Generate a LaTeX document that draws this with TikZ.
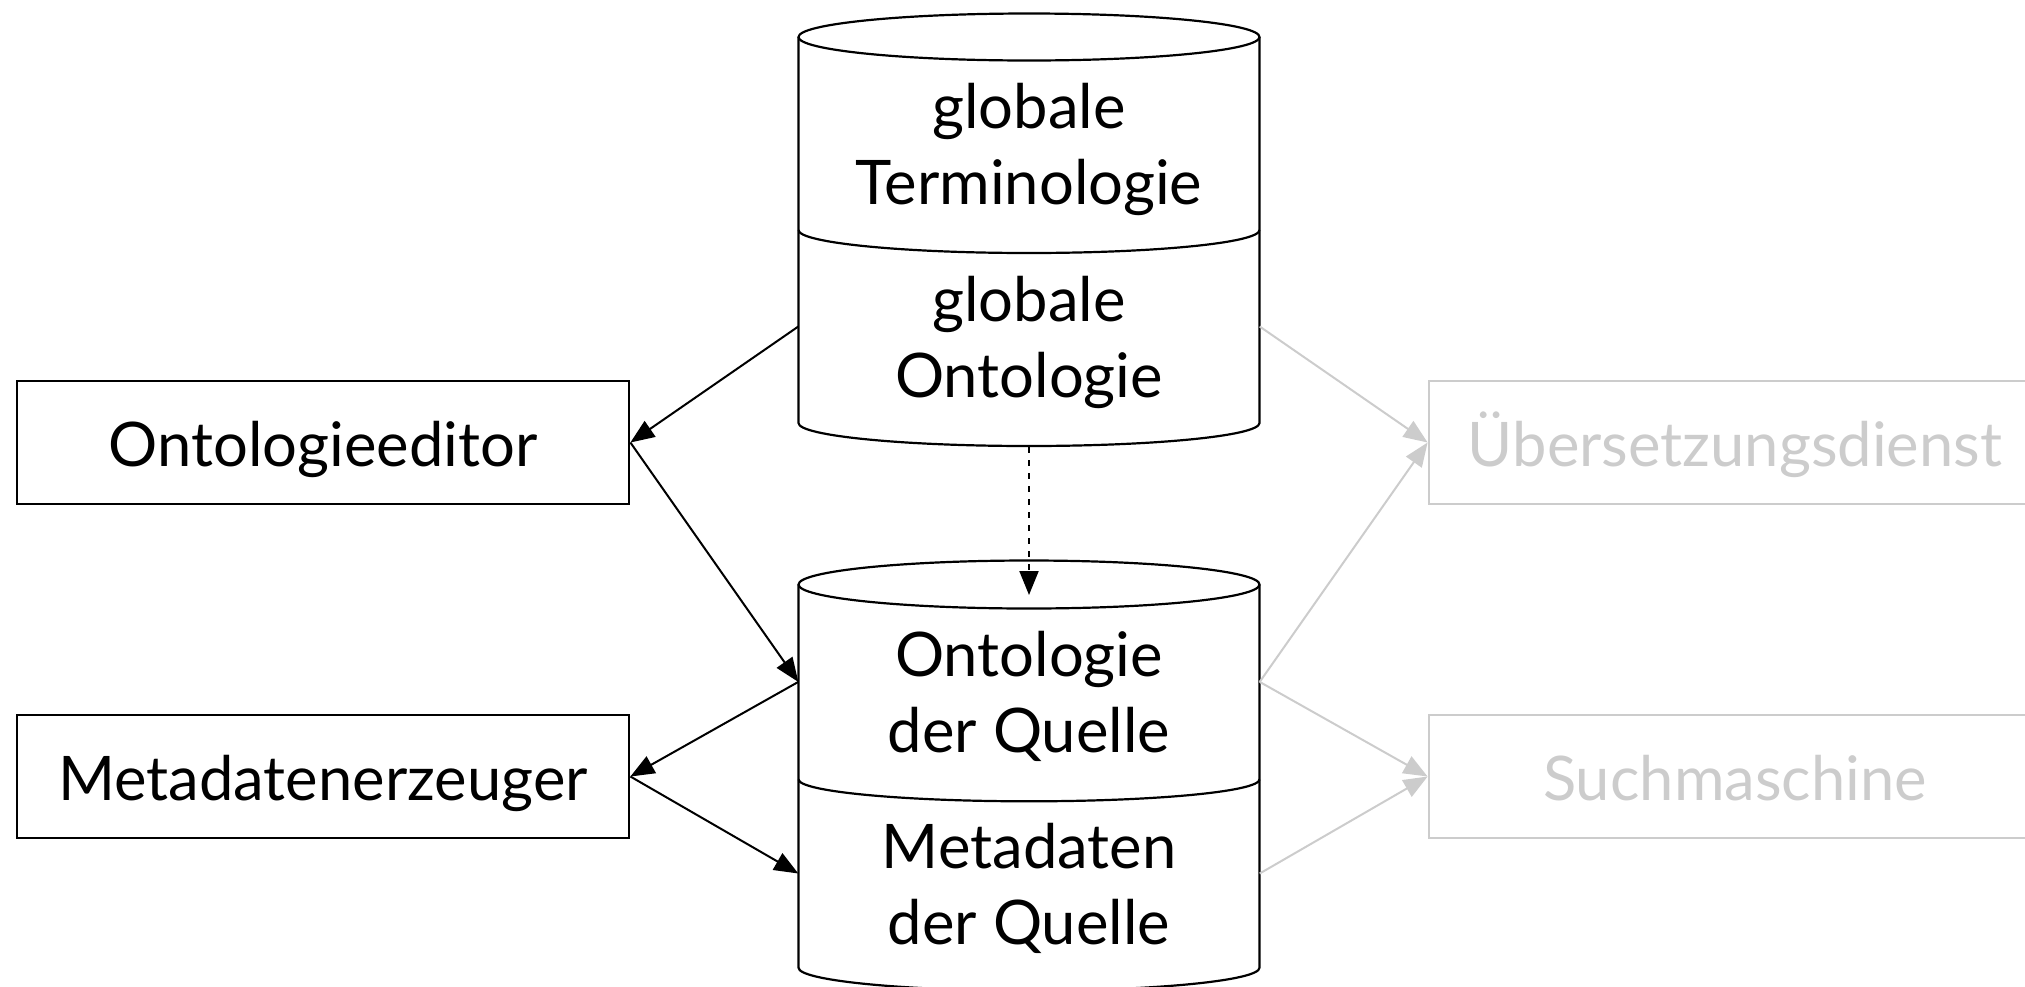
\documentclass[tikz,border=0pt]{standalone}
\usepackage{fontspec}
\setmainfont{Lato}
\usetikzlibrary{arrows.meta}
\definecolor{faint}{RGB}{204,204,204}
\tikzset{
  txt/.style={font=\fontsize{61.5}{76}\selectfont},
  comp/.style={txt, draw, line width=2.2pt, minimum width=612.6pt,
    minimum height=123.6pt, inner sep=0pt, text height=47pt, text depth=0pt},
  ghost/.style={comp, draw=faint, text=faint},
  slot/.style={inner sep=0pt, minimum width=461pt},
  dbtext/.style={txt, anchor=north, inner sep=0pt, align=center},
  drum/.style={line width=2.2pt},
  link/.style={line width=2pt, -{Triangle[length=24pt,width=19pt]}},
  faintlink/.style={link, draw=faint},
  dotlink/.style={link, dash pattern=on 6pt off 7pt},
}
% strut that fixes the height of a label's first line
\newcommand{\lineone}{\rule{0pt}{58pt}}
\begin{document}
\begin{tikzpicture}[x=1pt,y=-1pt]
\useasboundingbox (0,0) rectangle (2025,986);
\clip (0,0) rectangle (2025,986);

% upper store
\draw[drum] (1029,37) ellipse[x radius=230.5, y radius=23.5];
\draw[drum] (798.5,37) -- (798.5,423)
  arc[start angle=180, end angle=0, x radius=230.5, y radius=23] -- (1259.5,37);
\draw[drum] (798.5,230) arc[start angle=180, end angle=0, x radius=230.5, y radius=23];

% lower store
\draw[drum] (1029,584.5) ellipse[x radius=230.5, y radius=24];
\draw[drum] (798.5,584.5) -- (798.5,967.7)
  arc[start angle=180, end angle=0, x radius=230.5, y radius=23] -- (1259.5,584.5);
\draw[drum] (798.5,779.3) arc[start angle=180, end angle=0, x radius=230.5, y radius=22];

% store sections (connection anchors)
\node[slot, minimum height=193pt] (gterm) at (1029,133.5) {};
\node[slot, minimum height=193pt] (gonto) at (1029,326.5) {};
\node[slot, minimum height=194.8pt] (oquelle) at (1029,681.9) {};
\node[slot, minimum height=188.4pt] (mquelle) at (1029,873.5) {};

% store labels
\node[dbtext] (gtermT) at ([yshift=63.5pt]gterm.center) {\lineone globale\\Terminologie};
\node[dbtext] (gontoT) at ([yshift=63.5pt]gonto.center) {\lineone globale\\Ontologie};
\node[dbtext] (oquelleT) at ([yshift=63.5pt]oquelle.center) {\lineone Ontologie\\der Quelle};
\node[dbtext] (mquelleT) at ([yshift=63.5pt]mquelle.center) {\lineone Metadaten\\der Quelle};

% tools
\node[comp] (editor) at (323,442.5) {Ontologieeditor};
\node[comp] (meta) at (323,776.5) {Metadatenerzeuger};
\node[ghost] (uebers) at (1735,442.5) {Übersetzungsdienst};
\node[ghost] (such) at (1735,776.5) {Suchmaschine};

% connectors
\coordinate (gbase) at (1029,447);
\coordinate (qtop) at (1029,595);
\draw[dotlink] (gbase) -- (qtop);

\draw[link] (gonto.west) -- (editor.east);
\draw[link] (editor.east) -- (oquelle.west);
\draw[link] (oquelle.west) -- (meta.east);
\draw[link] (meta.east) -- (mquelle.west);

\draw[faintlink] (gonto.east) -- (uebers.west);
\draw[faintlink] (oquelle.east) -- (uebers.west);
\draw[faintlink] (oquelle.east) -- (such.west);
\draw[faintlink] (mquelle.east) -- (such.west);
\end{tikzpicture}
\end{document}
